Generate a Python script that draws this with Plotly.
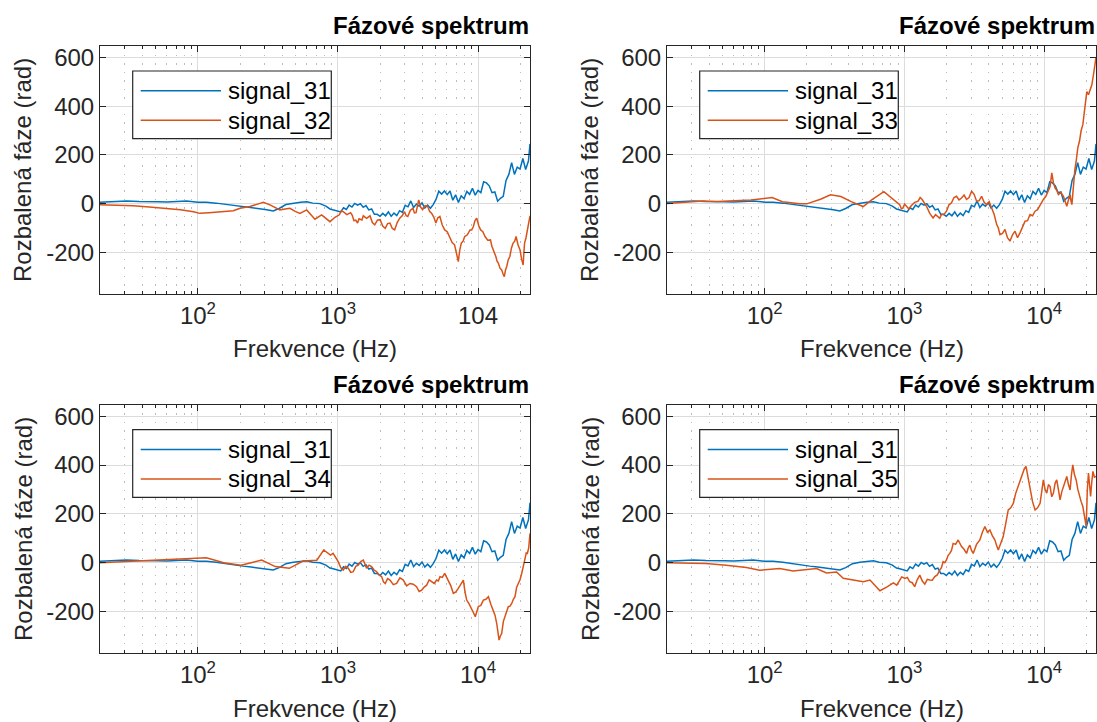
import numpy as np
import plotly.graph_objects as go

W, H = 1097, 722
FONT = "Liberation Sans, Arial, sans-serif"
BLUE = "#0072BD"
ORANGE = "#D95319"
FS = 24

# ---------------- data ----------------
f31 = [20, 25, 31, 38, 45, 52, 60, 70, 83, 100, 115, 135, 160, 185, 210, 240, 275, 310, 345, 380,
       425, 480, 540, 600, 660, 743, 820, 877, 925,
       1000, 1047, 1096, 1148, 1202, 1259, 1318, 1380, 1445, 1514, 1585, 1660, 1738, 1820, 1905,
       1995, 2089, 2188, 2291, 2399, 2512, 2630, 2754, 2884, 3020, 3162, 3311, 3467, 3631, 3802,
       3981, 4169, 4365, 4571, 4786, 5012, 5248, 5495, 5754, 6026, 6310, 6607, 6918, 7244, 7586,
       7943, 8318, 8710, 9120, 9550, 10000, 10471, 10965, 11482, 12023, 12589, 13183, 13804,
       14454, 15136, 15849, 16596, 17378, 18197, 19055, 19953, 20893, 21878, 22909, 23500]
s31 = [6, 8, 11, 9, 7, 8, 7, 9, 11, 6, 6, 2, -3, -8, -14, -18, -22, -25, -30, -20,
       -4, 2, 6, 8, 2, 0, -10, -22, -25,
       -30, -34, -17, -24, -6, -14, 1, -6, 0, -15, -8, -26, -22, -44, -44,
       -52, -40, -50, -34, -52, -39, -49, -29, -36, -7, -13, 11, -16, -2, -11,
       3, -18, -6, -19, -4, 17, 51, 39, 52, 37, 52, 14, 36, 5, 32,
       20, 50, 38, 63, 35, 54, 45, 90, 85, 73, 45, 48, 10,
       22, 30, 95, 120, 168, 120, 150, 142, 185, 140, 175, 245]

f32 = [20, 27, 34.5, 45, 60, 75, 93, 103, 120, 144, 179, 200, 235, 277, 293, 327, 360, 385, 420,
       454, 495, 535, 598, 640, 685, 764, 820, 877, 952,
       1023, 1056, 1090, 1158, 1230, 1265, 1300, 1340, 1380, 1415, 1450, 1483, 1517, 1602, 1693,
       1760, 1830, 1913, 2000, 2086, 2175, 2262, 2351, 2444, 2540, 2648, 2760, 2873, 2990, 3070,
       3150, 3285, 3425, 3516, 3610, 3690, 3770, 3894, 4020, 4190, 4360, 4511, 4667, 4830, 5000,
       5168, 5340, 5555, 5780, 6025, 6280, 6535, 6800, 6925, 7050, 7140, 7230, 7412, 7600, 7812,
       8030, 8390, 8770, 9007, 9250, 9516, 9790, 10110, 10440, 10822, 11220, 11733, 12270, 12557,
       12850, 13122, 13400, 13677, 13960, 14349, 14750, 15073, 15400, 15712, 16030, 16444, 16870,
       17328, 17800, 18244, 18700, 19314, 19950, 20469, 21000, 21250, 21500, 22000, 22500, 23000,
       23500]
s32 = [-5, -7, -9, -14, -19, -25, -33, -40, -37, -33, -29, -19, -12, 1, 5, -5, -18, -26, -22,
       -19, -32, -40, -26, -45, -64, -46, -60, -74, -56,
       -46, -30, -33, -45, -37, -48, -70, -68, -80, -62, -65, -67, -50, -60, -50,
       -78, -87, -68, -66, -92, -101, -82, -80, -102, -108, -78, -60, -50, -33, -50,
       -53, -28, -19, -38, -37, -5, 15, -15, -25, -8, -10, -32, -40, -55, -80,
       -58, -53, -88, -108, -115, -135, -160, -169, -190, -200, -222, -238, -190, -162, -155,
       -135, -128, -108, -108, -95, -70, -60, -90, -108, -115, -135, -150, -149, -175,
       -190, -198, -217, -236, -244, -265, -272, -288, -300, -272, -258, -230, -217,
       -182, -162, -155, -135, -170, -190, -228, -252, -200, -162, -140, -108, -70,
       -50]

f33 = [20, 28, 36, 46, 57, 80, 113, 134, 178, 200, 251, 296, 351, 416, 507, 583, 713, 822,
       925, 949, 973, 1003, 1033, 1077, 1122, 1186, 1253, 1296, 1340, 1389, 1439, 1519, 1604, 1671,
       1741, 1790, 1840, 1918, 2000, 2084, 2172, 2264, 2360, 2460, 2564, 2672, 2784, 2902, 3025,
       3153, 3286, 3425, 3570, 3720, 3877, 4040, 4211, 4390, 4575, 4700, 4830, 5034, 5247, 5466,
       5695, 5936, 6187, 6447, 6717, 7002, 7300, 7606, 7925, 8260, 8610, 8973, 9350, 9606, 9870,
       10290, 10720, 11030, 11340, 11655, 11980, 12310, 12650, 13184, 13740, 14125, 14520, 14925,
       15340, 15570, 15800, 16010, 16230, 16590, 16950, 17420, 17900, 18400, 18920, 19280, 19640,
       20190, 20760, 21350, 21950, 22550, 23170, 23500]
s33 = [1, 5, 11, 9, 11, 15, 25, 8, -1, -1, 18, 36, 29, 8, -12, 15, 49, 22,
       -4, -20, -19, -2, -12, -22, -8, 5, 10, 25, 17, 5, -11, -40, -59, -45,
       -52, -60, -45, -45, -31, -5, 3, 25, 30, 15, 23, 35, 17, 25, 51,
       38, 10, 12, 30, 5, -4, 8, -18, -45, -86, -100, -127, -122, -106, -140,
       -154, -128, -113, -140, -120, -95, -72, -70, -45, -50, -31, -25, -4, 5, 17,
       30, 51, 70, 126, 85, 64, 55, 37, 45, 30, 10, -11, 15,
       37, 10, -4, 35, 78, 140, 174, 230, 256, 300, 324, 370, 420,
       460, 447, 470, 488, 530, 584, 600]

f34 = [20, 28, 37, 55, 82, 115, 153, 203, 240, 285, 357, 449, 563, 706, 791, 885, 923,
       1004, 1046, 1090, 1137, 1186, 1234, 1285, 1340, 1396, 1455, 1517, 1558, 1600, 1667, 1737,
       1812, 1890, 1969, 2051, 2112, 2175, 2260, 2351, 2484, 2624, 2771, 2927, 3092, 3266, 3448,
       3640, 3797, 3960, 4127, 4300, 4480, 4667, 4862, 5066, 5208, 5354, 5563, 5780, 5958, 6141,
       6398, 6667, 6943, 7230, 7537, 7856, 8075, 8300, 8650, 9010, 9280, 9560, 9800, 10040, 10470,
       10920, 11380, 11860, 12345, 12850, 13220, 13600, 13862, 14130, 14437, 14750, 15170, 15600,
       16020, 16450, 16920, 17400, 17880, 18360, 18870, 19400, 19940, 20500, 21080, 21680, 22080,
       22500, 23000, 23500]
s34 = [0, 4, 8, 12, 18, 20, 0, -10, 0, 11, -16, -23, 7, 10, 52, 31, 38,
       4, -20, -30, -15, -23, -40, -37, -15, -10, 5, 11, -5, -23, -10, -16,
       -30, -37, -50, -57, -78, -85, -65, -71, -90, -85, -62, -71, -95, -85, -88,
       -98, -118, -112, -100, -92, -70, -78, -85, -71, -75, -57, -60, -44, -60, -78,
       -95, -126, -120, -105, -90, -71, -120, -153, -170, -194, -205, -221, -200, -180, -175,
       -153, -150, -139, -170, -194, -215, -249, -280, -317, -300, -290, -240, -221,
       -200, -180, -178, -167, -150, -139, -100, -85, -70, -44, -5, 18, 40,
       38, 60, 120]

f35 = [20, 27, 38, 53, 74, 92, 103, 128, 160, 199, 235, 277, 327, 365, 430, 508, 567, 668, 746,
       834, 881, 957,
       1010, 1050, 1091, 1137, 1185, 1235, 1288, 1343, 1400, 1458, 1518, 1583, 1650, 1719, 1791,
       1841, 1892, 1945, 2000, 2056, 2113, 2172, 2233, 2326, 2424, 2492, 2563, 2671, 2784, 2861,
       2940, 3022, 3107, 3282, 3467, 3614, 3767, 3925, 4090, 4264, 4445, 4569, 4697, 4892, 5095,
       5310, 5535, 5769, 6013, 6266, 6530, 6770, 7020, 7215, 7415, 7666, 7925, 8260, 8610, 8973,
       9350, 9606, 9870, 10150, 10440, 10730, 11030, 11335, 11650, 11970, 12300, 12645, 13000,
       13365, 13740, 14125, 14520, 14925, 15340, 15680, 16030, 16485, 16950, 17420, 17900, 18400,
       18920, 19450, 20000, 20370, 20760, 21125, 21500, 21915, 22340, 22900, 23500]
s35 = [0, -1, -3, -10, -20, -31, -28, -24, -34, -28, -24, -42, -38, -64, -71, -78, -71, -115, -100,
       -83, -92, -58,
       -64, -60, -78, -82, -98, -70, -51, -75, -88, -68, -71, -72, -57, -50, -30,
       -20, 4, 0, 11, 30, 38, 50, 79, 75, 93, 80, 66, 55, 38, 60,
       72, 50, 38, 75, 93, 125, 148, 125, 134, 110, 93, 70, 52, 80, 107,
       160, 216, 225, 243, 285, 312, 340, 367, 385, 394, 345, 312, 250, 216, 225,
       243, 300, 339, 300, 285, 320, 312, 270, 285, 325, 339, 300, 257,
       290, 312, 340, 353, 320, 298, 360, 401, 360, 339, 300, 271, 250,
       230, 190, 148, 300, 367, 320, 271, 330, 374, 350, 353]

second_names = ["signal_32", "signal_33", "signal_34", "signal_35"]
second_f = [f32, f33, f34, f35]
second_s = [s32, s33, s34, s35]
x_major = [100, 1000, 10000]
x_labels_tl = ["10<sup>2</sup>", "10<sup>3</sup>", "104"]
x_labels = ["10<sup>2</sup>", "10<sup>3</sup>", "10<sup>4</sup>"]
y_major = [-200, 0, 200, 400, 600]
y_labels = ["-200", "0", "200", "400", "600"]
x_range = [np.log10(20), np.log10(23500)]
y_range = [-371, 647]

# ---------------- layout geometry (pixels) ----------------
cols = [(100, 530), (667, 1096)]
rows = [(46, 294), (404.7, 653.3)]

def px(x):
    return x / W

def py(y):
    return 1 - y / H

x_minor = [m * 10 ** d for d in range(1, 5) for m in range(2, 10) if 20 <= m * 10 ** d <= 23500]

fig = go.Figure()
layout = dict(
    width=W, height=H, margin=dict(l=0, r=0, t=0, b=0),
    paper_bgcolor="white", plot_bgcolor="white", showlegend=False,
    font=dict(family=FONT, size=FS, color="#262626"),
)
annotations = []
shapes = []

for i in range(4):
    r, c = divmod(i, 2)
    L, R = cols[c]
    T, B = rows[r]
    sfx = "" if i == 0 else str(i + 1)
    xa, ya = "x" + sfx, "y" + sfx
    fig.add_trace(go.Scatter(x=f31, y=s31, mode="lines", line=dict(color=BLUE, width=1.5),
                             xaxis=xa, yaxis=ya, name="signal_31"))
    fig.add_trace(go.Scatter(x=second_f[i], y=second_s[i], mode="lines",
                             line=dict(color=ORANGE, width=1.5),
                             xaxis=xa, yaxis=ya, name=second_names[i]))
    layout["xaxis" + sfx] = dict(
        type="log", range=x_range, domain=[px(L), px(R)], anchor=ya,
        tickvals=x_major, ticktext=(x_labels_tl if i == 0 else x_labels),
        ticks="inside", ticklen=6, tickcolor="#262626", tickwidth=1,
        showline=True, linecolor="#262626", linewidth=1, mirror="ticks",
        showgrid=True, gridcolor="#DCDCDC", gridwidth=1.2, zeroline=False,
        tickfont=dict(size=FS, color="#262626"), automargin=False,
        minor=dict(tickvals=x_minor, ticks="inside", ticklen=3, tickcolor="#262626",
                   showgrid=True, gridcolor="#BDBDBD", gridwidth=1, griddash="1.5px,7px"),
    )
    layout["yaxis" + sfx] = dict(
        range=y_range, domain=[py(B), py(T)], anchor=xa,
        tickvals=y_major, ticktext=y_labels,
        ticks="inside", ticklen=6, tickcolor="#262626", tickwidth=1,
        showline=True, linecolor="#262626", linewidth=1, mirror="ticks",
        showgrid=True, gridcolor="#DCDCDC", gridwidth=1.2, zeroline=False,
        tickfont=dict(size=FS, color="#262626"), automargin=False,
    )
    # title
    annotations.append(dict(text="<b>Fázové spektrum</b>", x=px(R + 1), y=py(T - 20),
                            xref="paper", yref="paper", xanchor="right", yanchor="middle",
                            showarrow=False, font=dict(size=FS, color="black", family=FONT)))
    # axis titles
    annotations.append(dict(text="Frekvence (Hz)", x=px((L + R) / 2), y=py(B + 55),
                            xref="paper", yref="paper", xanchor="center", yanchor="middle",
                            showarrow=False, font=dict(size=FS, color="#262626", family=FONT)))
    annotations.append(dict(text="Rozbalená fáze (rad)", x=px(L - 77), y=py((T + B) / 2),
                            xref="paper", yref="paper", xanchor="center", yanchor="middle",
                            textangle=-90, showarrow=False,
                            font=dict(size=FS, color="#262626", family=FONT)))
    # legend box
    shapes.append(dict(type="rect", xref="paper", yref="paper",
                       x0=px(L + 32.7), x1=px(L + 231.3), y0=py(T + 92.7), y1=py(T + 25),
                       line=dict(color="#262626", width=1.2), fillcolor="white", layer="above"))
    for k, (nm, col) in enumerate([("signal_31", BLUE), (second_names[i], ORANGE)]):
        yy = T + 44.7 + k * 29.5
        shapes.append(dict(type="line", xref="paper", yref="paper",
                           x0=px(L + 40.7), x1=px(L + 121), y0=py(yy), y1=py(yy),
                           line=dict(color=col, width=1.5), layer="above"))
        annotations.append(dict(text=nm, x=px(L + 126), y=py(yy), xref="paper", yref="paper",
                                xanchor="left", yanchor="middle", showarrow=False,
                                font=dict(size=FS, color="black", family=FONT)))

layout["annotations"] = annotations
layout["shapes"] = shapes
fig.update_layout(**layout)
fig.write_html(
    "out.html",
    config={"displayModeBar": False},
    post_script="document.body.style.margin='0px';document.body.style.overflow='hidden';"
                "document.documentElement.style.overflow='hidden';",
)
